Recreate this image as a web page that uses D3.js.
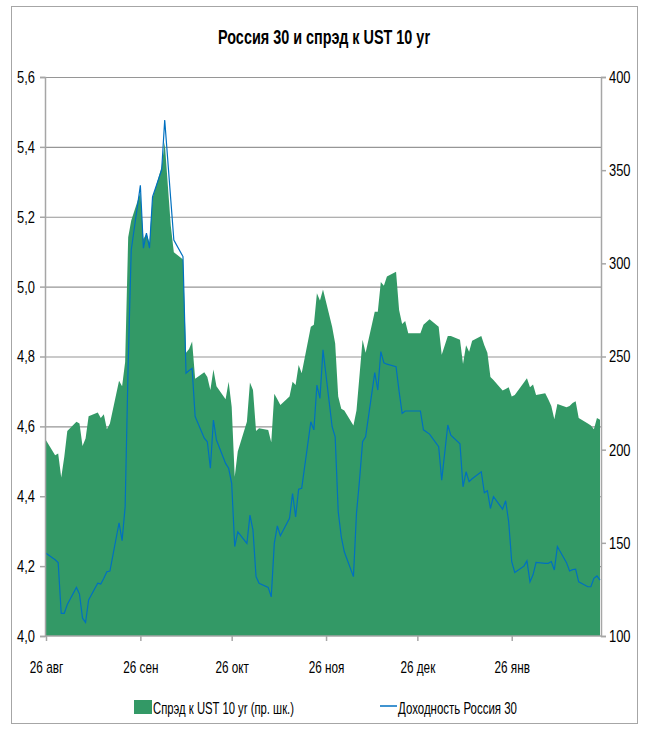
<!DOCTYPE html>
<html>
<head>
<meta charset="utf-8">
<script src="https://cdn.jsdelivr.net/npm/d3@7/dist/d3.min.js"></script>
<style>
  body { margin: 0; background: #fff; }
  svg text { font-family: "Liberation Sans", Arial, sans-serif; fill: #000; }
</style>
</head>
<body>
<div id="chart"></div>
<script>
// data
var dates = [
  "2011-08-26","2011-08-29","2011-08-30","2011-08-31","2011-09-01","2011-09-02",
  "2011-09-05","2011-09-06","2011-09-07","2011-09-08","2011-09-09",
  "2011-09-12","2011-09-13","2011-09-14","2011-09-15","2011-09-16",
  "2011-09-19","2011-09-20","2011-09-21","2011-09-22","2011-09-23",
  "2011-09-26","2011-09-27","2011-09-28","2011-09-29","2011-09-30",
  "2011-10-03","2011-10-04","2011-10-06","2011-10-07",
  "2011-10-10","2011-10-11","2011-10-12","2011-10-13","2011-10-14",
  "2011-10-17","2011-10-18","2011-10-19","2011-10-20","2011-10-21",
  "2011-10-24","2011-10-25","2011-10-26","2011-10-27","2011-10-28",
  "2011-10-31","2011-11-01","2011-11-02","2011-11-03","2011-11-04",
  "2011-11-07","2011-11-08","2011-11-09","2011-11-10","2011-11-11",
  "2011-11-14","2011-11-15","2011-11-16","2011-11-17","2011-11-18",
  "2011-11-21","2011-11-22","2011-11-23","2011-11-24","2011-11-25",
  "2011-11-28","2011-11-29","2011-11-30","2011-12-01","2011-12-02",
  "2011-12-05","2011-12-06","2011-12-07","2011-12-08","2011-12-09",
  "2011-12-12","2011-12-13","2011-12-14","2011-12-15","2011-12-16",
  "2011-12-19","2011-12-20","2011-12-21","2011-12-22","2011-12-23",
  "2011-12-27","2011-12-28","2011-12-30",
  "2012-01-02","2012-01-03","2012-01-05","2012-01-06",
  "2012-01-09","2012-01-10","2012-01-11","2012-01-12","2012-01-13",
  "2012-01-16","2012-01-17","2012-01-18","2012-01-19","2012-01-20",
  "2012-01-23","2012-01-24","2012-01-25","2012-01-26","2012-01-27",
  "2012-01-30","2012-01-31","2012-02-01","2012-02-02","2012-02-03",
  "2012-02-06","2012-02-07","2012-02-08","2012-02-09","2012-02-10",
  "2012-02-13","2012-02-14","2012-02-15","2012-02-16","2012-02-17",
  "2012-02-20","2012-02-21","2012-02-22","2012-02-23","2012-02-24"
];

// spread to UST 10yr, bp (right axis)
var spread = [
  205, 197, 198, 185, 196, 210,
  215, 214, 202, 206, 218,
  220, 217, 219, 211, 214,
  237, 234, 247, 314, 323,
  338, 313, 316, 311, 335,
  352, 365, 320, 306,
  302, 252, 254, 258, 238,
  241.5, 239, 232, 243, 234,
  227, 236.5, 223, 185.5, 199,
  215, 236, 232, 210, 211.5,
  210.6, 204, 230, 227, 224,
  228.5, 236.5, 234.7, 245.5, 241,
  266, 267, 284, 280, 286,
  266, 257, 228.5, 222, 221,
  213, 221, 240, 259, 252,
  274, 274, 290, 288, 293,
  295.5, 275, 267.5, 269, 262.5,
  262.5, 267, 270,
  266, 251, 261, 261,
  259, 246, 256, 252.6, 258.5,
  261, 256, 252, 239, 237.4,
  231.7, 232.5, 233.5, 228.5, 229.4,
  236, 238.3, 233.5, 235, 229.4,
  230.3, 227, 223.5, 216.3, 224.5,
  222.8, 223.5, 225, 226, 217,
  214, 213, 211, 217, 216
];

// Russia 30 yield, % (left axis)
var yieldRus30 = [
  4.237, 4.218, 4.21, 4.065, 4.065, 4.09,
  4.139, 4.12, 4.051, 4.039, 4.103,
  4.151, 4.149, 4.165, 4.184, 4.186,
  4.324, 4.273, 4.37, 4.78, 5.105,
  5.29, 5.11, 5.153, 5.11, 5.257,
  5.334, 5.477, 5.248, 5.133,
  5.086, 4.752, 4.76, 4.766, 4.628,
  4.566, 4.556, 4.48, 4.618, 4.561,
  4.494, 4.48, 4.437, 4.256, 4.298,
  4.265, 4.346, 4.303, 4.17, 4.151,
  4.139, 4.112, 4.265, 4.315, 4.287,
  4.337, 4.408, 4.341, 4.42, 4.423,
  4.613, 4.59, 4.718, 4.68, 4.819,
  4.599, 4.57, 4.356, 4.284, 4.241,
  4.17, 4.351, 4.446, 4.556, 4.57,
  4.754, 4.704, 4.814, 4.782, 4.778,
  4.771, 4.70, 4.637, 4.644, 4.644,
  4.644, 4.59, 4.578,
  4.542, 4.446, 4.604, 4.575,
  4.55, 4.427, 4.47, 4.442, 4.45,
  4.47, 4.41, 4.416, 4.365, 4.399,
  4.363, 4.387, 4.327, 4.213, 4.182,
  4.20, 4.215, 4.155, 4.175, 4.211,
  4.208, 4.208, 4.213, 4.189, 4.256,
  4.21, 4.186, 4.19, 4.191, 4.155,
  4.141, 4.141, 4.165, 4.172, 4.16
];

var leftTicks = [4.0, 4.2, 4.4, 4.6, 4.8, 5.0, 5.2, 5.4, 5.6];
var rightTicks = [100, 150, 200, 250, 300, 350, 400];
var monthTicks = ["2011-08-26","2011-09-26","2011-10-26","2011-11-26","2011-12-26","2012-01-26"];
var monthNames = ["янв","фев","мар","апр","май","июн","июл","авг","сен","окт","ноя","дек"];

var titleText = "Россия 30 и спрэд к UST 10 yr";
var spreadName = "Спрэд к UST 10 yr (пр. шк.)";
var yieldName = "Доходность Россия 30";

var width = 645, height = 731;
var plot = { left: 45, right: 601, top: 77, bottom: 636 };

var parseDate = d3.timeParse("%Y-%m-%d");
var rows = dates.map(function (d, i) {
  return { date: parseDate(d), spread: spread[i], yld: yieldRus30[i] };
});

var ruFormat = d3.formatLocale({ decimal: ",", thousands: " ", grouping: [3], currency: ["", ""] });

// the original font is a narrow one, so squeeze the glyphs horizontally
function squeeze(sel, k) {
  sel.each(function () {
    var w = this.getComputedTextLength();
    d3.select(this)
      .attr("textLength", w * k)
      .attr("lengthAdjust", "spacingAndGlyphs");
  });
}

function fitTo(sel, w) {
  sel.attr("textLength", w).attr("lengthAdjust", "spacingAndGlyphs");
}

var svg = d3.select("#chart").append("svg")
  .attr("width", width)
  .attr("height", height);

// chart frame
svg.append("rect")
  .attr("x", 11.5).attr("y", 6.5)
  .attr("width", 626).attr("height", 717)
  .attr("fill", "#fff")
  .attr("stroke", "#a6a6a6");

var x = d3.scaleTime()
  .domain([parseDate("2011-08-26"), parseDate("2012-02-24")])
  .range([plot.left + 1, plot.right - 1]);

var yLeft = d3.scaleLinear().domain([4.0, 5.6]).range([plot.bottom, plot.top]);
var yRight = d3.scaleLinear().domain([100, 400]).range([plot.bottom, plot.top]);

// gridlines
svg.append("g")
  .attr("class", "grid")
  .attr("transform", "translate(" + plot.left + ",0)")
  .call(d3.axisLeft(yLeft).tickValues(leftTicks.slice(1)).tickSize(-(plot.right - plot.left)).tickFormat(""))
  .call(function (g) { g.select(".domain").remove(); })
  .selectAll("line")
  .attr("stroke", "#969696")
  .attr("stroke-width", 1.2);

// spread area
var area = d3.area()
  .x(function (d) { return x(d.date); })
  .y0(yRight(100))
  .y1(function (d) { return yRight(d.spread); });

svg.append("path")
  .datum(rows)
  .attr("d", area)
  .attr("fill", "#339966");

// yield line
var line = d3.line()
  .x(function (d) { return x(d.date); })
  .y(function (d) { return yLeft(d.yld); });

svg.append("path")
  .datum(rows)
  .attr("d", line)
  .attr("fill", "none")
  .attr("stroke", "#0070c0")
  .attr("stroke-width", 1.2);

// axes
var axisColor = "#a6a6a6";

var leftAxis = svg.append("g")
  .attr("transform", "translate(" + plot.left + ",0)")
  .call(d3.axisLeft(yLeft).tickValues(leftTicks).tickSize(5).tickPadding(5)
    .tickFormat(ruFormat.format(".1f")));

var rightAxis = svg.append("g")
  .attr("transform", "translate(" + plot.right + ",0)")
  .call(d3.axisRight(yRight).tickValues(rightTicks).tickSize(5).tickPadding(3)
    .tickFormat(d3.format("d")));

var bottomAxis = svg.append("g")
  .attr("transform", "translate(0," + plot.bottom + ")")
  .call(d3.axisBottom(x).tickValues(monthTicks.map(parseDate)).tickSize(5)
    .tickFormat(function (d) { return d.getDate() + " " + monthNames[d.getMonth()]; }));

// bottom axis domain spans the full plot
bottomAxis.select(".domain")
  .attr("d", "M" + plot.left + ",0H" + plot.right);

[leftAxis, rightAxis, bottomAxis].forEach(function (g) {
  g.attr("font-family", null).attr("font-size", null);
  g.select(".domain").attr("stroke", axisColor).attr("stroke-width", 1.5);
  g.selectAll(".tick line").attr("stroke", axisColor).attr("stroke-width", 1.5);
  g.selectAll("text").attr("font-size", 17);
});

bottomAxis.selectAll("text").attr("y", 37).attr("dy", null);

squeeze(leftAxis.selectAll("text"), 0.76);
squeeze(rightAxis.selectAll("text"), 0.76);
squeeze(bottomAxis.selectAll("text"), 0.69);

// title
svg.append("text")
  .attr("x", 324)
  .attr("y", 44)
  .attr("text-anchor", "middle")
  .attr("font-size", 20)
  .attr("font-weight", "bold")
  .text(titleText)
  .call(fitTo, 212);

// legend
var legend = svg.append("g").attr("transform", "translate(0,707)");

legend.append("rect")
  .attr("x", 134).attr("y", -7)
  .attr("width", 18).attr("height", 14)
  .attr("fill", "#339966");

legend.append("text")
  .attr("x", 153).attr("y", 7)
  .attr("font-size", 17)
  .text(spreadName)
  .call(fitTo, 141);

legend.append("line")
  .attr("x1", 380).attr("x2", 397)
  .attr("y1", -1).attr("y2", -1)
  .attr("stroke", "#0070c0")
  .attr("stroke-width", 1.5);

legend.append("text")
  .attr("x", 398).attr("y", 7)
  .attr("font-size", 17)
  .text(yieldName)
  .call(fitTo, 119);
</script>
</body>
</html>
